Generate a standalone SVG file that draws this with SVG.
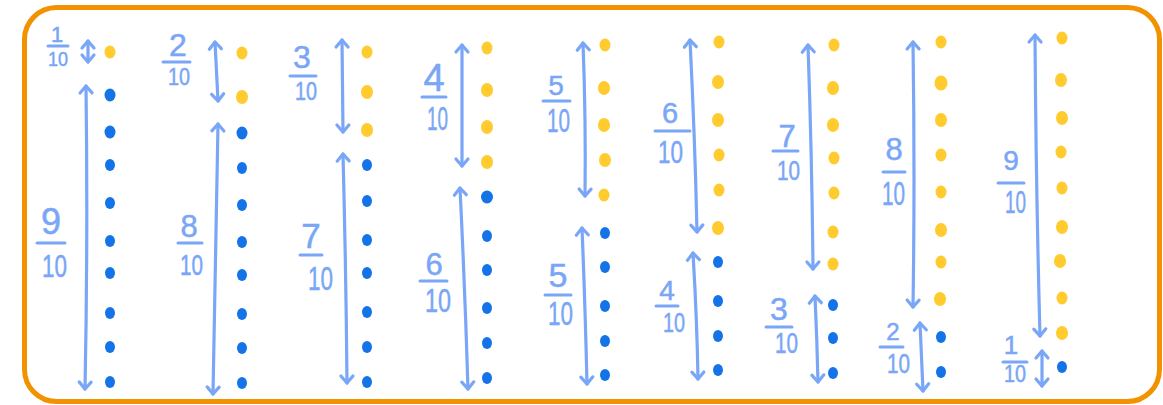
<svg xmlns="http://www.w3.org/2000/svg" width="1163" height="405" viewBox="0 0 1163 405">
<defs>
<marker id="ah" viewBox="-9 -9 18 18" refX="0" refY="0" markerWidth="18" markerHeight="18" markerUnits="userSpaceOnUse" orient="auto-start-reverse" overflow="visible">
<path d="M-7,-6 L0,0 L-7,6" fill="none" stroke="#79A6F6" stroke-width="3.2" stroke-linecap="round" stroke-linejoin="round"/>
</marker>
<style>
.frame{fill:#fff;stroke:#F39200;stroke-width:5}
.arr{fill:none;stroke:#79A6F6;stroke-width:3.2;stroke-linecap:round;marker-start:url(#ah);marker-end:url(#ah)}
.y{fill:#FFCB2E}
.b{fill:#1473E6}
.t{font-family:"Liberation Sans",Arial,sans-serif;fill:#79A6F6;stroke:#79A6F6;stroke-width:0.5;text-anchor:middle}
.d{text-anchor:start}
.bar{stroke:#79A6F6;stroke-width:3;stroke-linecap:round}
</style>
</defs>
<rect class="frame" x="24.5" y="7.5" width="1135" height="394" rx="32"/>

<g id="connectors">
<path class="arr" d="M88,41 L88,62"/>
<path class="arr" d="M86,86 Q88,240 85,389"/>
<path class="arr" d="M215,42 L218,101"/>
<path class="arr" d="M218,124 Q216,260 213,394"/>
<path class="arr" d="M342,40 L343,132"/>
<path class="arr" d="M343,154 Q346,270 347,383"/>
<path class="arr" d="M462,45 L462,166"/>
<path class="arr" d="M460,188 Q465,290 468,389"/>
<path class="arr" d="M583,43 Q586,120 585,196"/>
<path class="arr" d="M582,228 Q585,300 587,384"/>
<path class="arr" d="M690,40 Q695,140 697,232"/>
<path class="arr" d="M693,253 Q697,320 698,379"/>
<path class="arr" d="M808,45 Q812,160 813,269"/>
<path class="arr" d="M815,296 Q817,340 818,382"/>
<path class="arr" d="M913,42 Q915,180 913,307"/>
<path class="arr" d="M920,323 L923,391"/>
<path class="arr" d="M1035,35 Q1036,190 1040,336"/>
<path class="arr" d="M1042,351 L1042,386"/>
</g>

<g id="col1">
<ellipse class="y" cx="110" cy="52" rx="5.5" ry="6.5"/>
<ellipse class="b" cx="110" cy="95" rx="5.5" ry="6.5"/><ellipse class="b" cx="110" cy="132" rx="5.5" ry="6.5"/><ellipse class="b" cx="110" cy="165" rx="5" ry="6"/><ellipse class="b" cx="110" cy="203" rx="5" ry="6"/><ellipse class="b" cx="110" cy="241" rx="5" ry="6"/><ellipse class="b" cx="110" cy="273" rx="5" ry="6"/><ellipse class="b" cx="110" cy="313" rx="5" ry="6"/><ellipse class="b" cx="110" cy="347" rx="5" ry="6"/><ellipse class="b" cx="110" cy="382" rx="5" ry="6"/>
<line class="bar" x1="48" y1="46" x2="68" y2="46"/>
<text class="t" x="57" y="42" font-size="22">1</text>
<text class="t d" x="48" y="66" font-size="21" textLength="20" lengthAdjust="spacingAndGlyphs">10</text>
<line class="bar" x1="37" y1="243" x2="65" y2="243"/>
<text class="t" x="51" y="234" font-size="36">9</text>
<text class="t d" x="42" y="277" font-size="32" textLength="25" lengthAdjust="spacingAndGlyphs">10</text>
</g>

<g id="col2">
<ellipse class="y" cx="242" cy="53" rx="5.5" ry="6.5"/><ellipse class="y" cx="242" cy="97" rx="6" ry="7"/>
<ellipse class="b" cx="242" cy="133" rx="5.5" ry="6.5"/><ellipse class="b" cx="242" cy="168" rx="5" ry="6"/><ellipse class="b" cx="242" cy="205" rx="5" ry="6"/><ellipse class="b" cx="242" cy="242" rx="5" ry="6"/><ellipse class="b" cx="242" cy="275" rx="5" ry="6"/><ellipse class="b" cx="242" cy="314" rx="5" ry="6"/><ellipse class="b" cx="242" cy="348" rx="5" ry="6"/><ellipse class="b" cx="242" cy="383" rx="5" ry="6"/>
<line class="bar" x1="163" y1="62" x2="190" y2="62"/>
<text class="t" x="178" y="56" font-size="32">2</text>
<text class="t d" x="168" y="85" font-size="24" textLength="22" lengthAdjust="spacingAndGlyphs">10</text>
<line class="bar" x1="178" y1="243" x2="202" y2="243"/>
<text class="t" x="189" y="237" font-size="31">8</text>
<text class="t d" x="180" y="275" font-size="30" textLength="23" lengthAdjust="spacingAndGlyphs">10</text>
</g>

<g id="col3">
<ellipse class="y" cx="367" cy="52" rx="5.5" ry="6.5"/><ellipse class="y" cx="367" cy="92" rx="6" ry="7"/><ellipse class="y" cx="367" cy="130" rx="6" ry="7"/>
<ellipse class="b" cx="367" cy="165" rx="5" ry="6"/><ellipse class="b" cx="367" cy="201" rx="5" ry="6"/><ellipse class="b" cx="367" cy="240" rx="5" ry="6"/><ellipse class="b" cx="367" cy="273" rx="5" ry="6"/><ellipse class="b" cx="367" cy="312" rx="5" ry="6"/><ellipse class="b" cx="367" cy="347" rx="5" ry="6"/><ellipse class="b" cx="367" cy="382" rx="5" ry="6"/>
<line class="bar" x1="290" y1="76" x2="316" y2="76"/>
<text class="t" x="302" y="68" font-size="32">3</text>
<text class="t d" x="295" y="100" font-size="25" textLength="22" lengthAdjust="spacingAndGlyphs">10</text>
<line class="bar" x1="300" y1="255" x2="322" y2="255"/>
<text class="t" x="311" y="248" font-size="35">7</text>
<text class="t d" x="308" y="290" font-size="34" textLength="25" lengthAdjust="spacingAndGlyphs">10</text>
</g>

<g id="col4">
<ellipse class="y" cx="487" cy="48" rx="5.5" ry="6.5"/><ellipse class="y" cx="487" cy="90" rx="6" ry="7"/><ellipse class="y" cx="487" cy="127" rx="6" ry="7"/><ellipse class="y" cx="487" cy="162" rx="6" ry="7"/>
<ellipse class="b" cx="487" cy="197" rx="6" ry="6.5"/><ellipse class="b" cx="487" cy="236" rx="5" ry="6"/><ellipse class="b" cx="487" cy="270" rx="5" ry="6"/><ellipse class="b" cx="487" cy="308" rx="5" ry="6"/><ellipse class="b" cx="487" cy="343" rx="5" ry="6"/><ellipse class="b" cx="487" cy="378" rx="5" ry="6"/>
<line class="bar" x1="422" y1="97" x2="446" y2="97"/>
<text class="t" x="434" y="91" font-size="38">4</text>
<text class="t d" x="427" y="130" font-size="34" textLength="21" lengthAdjust="spacingAndGlyphs">10</text>
<line class="bar" x1="420" y1="281" x2="447" y2="281"/>
<text class="t" x="434" y="275" font-size="31">6</text>
<text class="t d" x="425" y="312" font-size="33" textLength="26" lengthAdjust="spacingAndGlyphs">10</text>
</g>

<g id="col5">
<ellipse class="y" cx="605" cy="45" rx="5.5" ry="6.5"/><ellipse class="y" cx="604" cy="88" rx="6" ry="7"/><ellipse class="y" cx="604" cy="125" rx="6" ry="7"/><ellipse class="y" cx="605" cy="160" rx="6" ry="7"/><ellipse class="y" cx="604" cy="195" rx="5.5" ry="6.5"/>
<ellipse class="b" cx="605" cy="233" rx="5" ry="6"/><ellipse class="b" cx="605" cy="267" rx="5" ry="6"/><ellipse class="b" cx="605" cy="306" rx="5" ry="6"/><ellipse class="b" cx="605" cy="341" rx="5" ry="6"/><ellipse class="b" cx="605" cy="375" rx="5" ry="6"/>
<line class="bar" x1="543" y1="101" x2="570" y2="101"/>
<text class="t" x="556" y="95" font-size="28">5</text>
<text class="t d" x="547" y="132" font-size="34" textLength="23" lengthAdjust="spacingAndGlyphs">10</text>
<line class="bar" x1="545" y1="295" x2="571" y2="295"/>
<text class="t" x="558" y="287" font-size="34">5</text>
<text class="t d" x="548" y="325" font-size="34" textLength="25" lengthAdjust="spacingAndGlyphs">10</text>
</g>

<g id="col6">
<ellipse class="y" cx="719" cy="42" rx="5.5" ry="6.5"/><ellipse class="y" cx="718" cy="82" rx="6" ry="7"/><ellipse class="y" cx="718" cy="120" rx="6" ry="7"/><ellipse class="y" cx="719" cy="155" rx="5.5" ry="6.5"/><ellipse class="y" cx="719" cy="190" rx="5.5" ry="6.5"/><ellipse class="y" cx="718" cy="228" rx="6" ry="7"/>
<ellipse class="b" cx="718" cy="262" rx="5" ry="6"/><ellipse class="b" cx="718" cy="301" rx="5" ry="6"/><ellipse class="b" cx="718" cy="336" rx="5" ry="6"/><ellipse class="b" cx="718" cy="370" rx="5" ry="6"/>
<line class="bar" x1="655" y1="131" x2="690" y2="131"/>
<text class="t" x="670" y="123" font-size="29">6</text>
<text class="t d" x="658" y="163" font-size="32" textLength="25" lengthAdjust="spacingAndGlyphs">10</text>
<line class="bar" x1="656" y1="306" x2="678" y2="306"/>
<text class="t" x="667" y="300" font-size="28">4</text>
<text class="t d" x="663" y="332" font-size="28" textLength="22" lengthAdjust="spacingAndGlyphs">10</text>
</g>

<g id="col7">
<ellipse class="y" cx="834" cy="45" rx="5.5" ry="6.5"/><ellipse class="y" cx="833" cy="88" rx="6" ry="7"/><ellipse class="y" cx="833" cy="125" rx="6" ry="7"/><ellipse class="y" cx="834" cy="158" rx="5.5" ry="6.5"/><ellipse class="y" cx="834" cy="193" rx="5.5" ry="6.5"/><ellipse class="y" cx="833" cy="232" rx="5.5" ry="6.5"/><ellipse class="y" cx="833" cy="264" rx="5.5" ry="6.5"/>
<ellipse class="b" cx="833" cy="305" rx="5" ry="6"/><ellipse class="b" cx="833" cy="338" rx="5" ry="6"/><ellipse class="b" cx="833" cy="373" rx="5" ry="6"/>
<line class="bar" x1="773" y1="151" x2="798" y2="151"/>
<text class="t" x="787" y="147" font-size="31">7</text>
<text class="t d" x="777" y="180" font-size="28" textLength="23" lengthAdjust="spacingAndGlyphs">10</text>
<line class="bar" x1="766" y1="327" x2="792" y2="327"/>
<text class="t" x="779" y="320" font-size="32">3</text>
<text class="t d" x="775" y="353" font-size="29" textLength="23" lengthAdjust="spacingAndGlyphs">10</text>
</g>

<g id="col8">
<ellipse class="y" cx="941" cy="42" rx="5.5" ry="6.5"/><ellipse class="y" cx="941" cy="83" rx="6.5" ry="7.5"/><ellipse class="y" cx="941" cy="120" rx="6" ry="7"/><ellipse class="y" cx="941" cy="155" rx="5.5" ry="6.5"/><ellipse class="y" cx="941" cy="192" rx="5.5" ry="6.5"/><ellipse class="y" cx="941" cy="230" rx="6" ry="7"/><ellipse class="y" cx="941" cy="262" rx="5.5" ry="6.5"/><ellipse class="y" cx="940" cy="299" rx="6" ry="7"/>
<ellipse class="b" cx="941" cy="337" rx="5" ry="6"/><ellipse class="b" cx="941" cy="372" rx="5" ry="6"/>
<line class="bar" x1="883" y1="172" x2="905" y2="172"/>
<text class="t" x="894" y="160" font-size="31">8</text>
<text class="t d" x="882" y="205" font-size="33" textLength="23" lengthAdjust="spacingAndGlyphs">10</text>
<line class="bar" x1="880" y1="347" x2="903" y2="347"/>
<text class="t" x="893" y="340" font-size="24">2</text>
<text class="t d" x="887" y="373" font-size="28" textLength="23" lengthAdjust="spacingAndGlyphs">10</text>
</g>

<g id="col9">
<ellipse class="y" cx="1062" cy="38" rx="5.5" ry="6.5"/><ellipse class="y" cx="1061" cy="80" rx="6" ry="7"/><ellipse class="y" cx="1062" cy="118" rx="6" ry="7"/><ellipse class="y" cx="1061" cy="152" rx="5.5" ry="6.5"/><ellipse class="y" cx="1062" cy="188" rx="5.5" ry="6.5"/><ellipse class="y" cx="1062" cy="227" rx="6" ry="7"/><ellipse class="y" cx="1060" cy="261" rx="6" ry="7"/><ellipse class="y" cx="1062" cy="298" rx="5.5" ry="6.5"/><ellipse class="y" cx="1062" cy="333" rx="6" ry="7"/>
<ellipse class="b" cx="1062" cy="367" rx="5" ry="6"/>
<line class="bar" x1="998" y1="183" x2="1024" y2="183"/>
<text class="t" x="1011" y="170" font-size="28">9</text>
<text class="t d" x="1005" y="213" font-size="31" textLength="21" lengthAdjust="spacingAndGlyphs">10</text>
<line class="bar" x1="1003" y1="362" x2="1027" y2="362"/>
<text class="t" x="1011" y="354" font-size="26">1</text>
<text class="t d" x="1004" y="382" font-size="24" textLength="22" lengthAdjust="spacingAndGlyphs">10</text>
</g>
</svg>
